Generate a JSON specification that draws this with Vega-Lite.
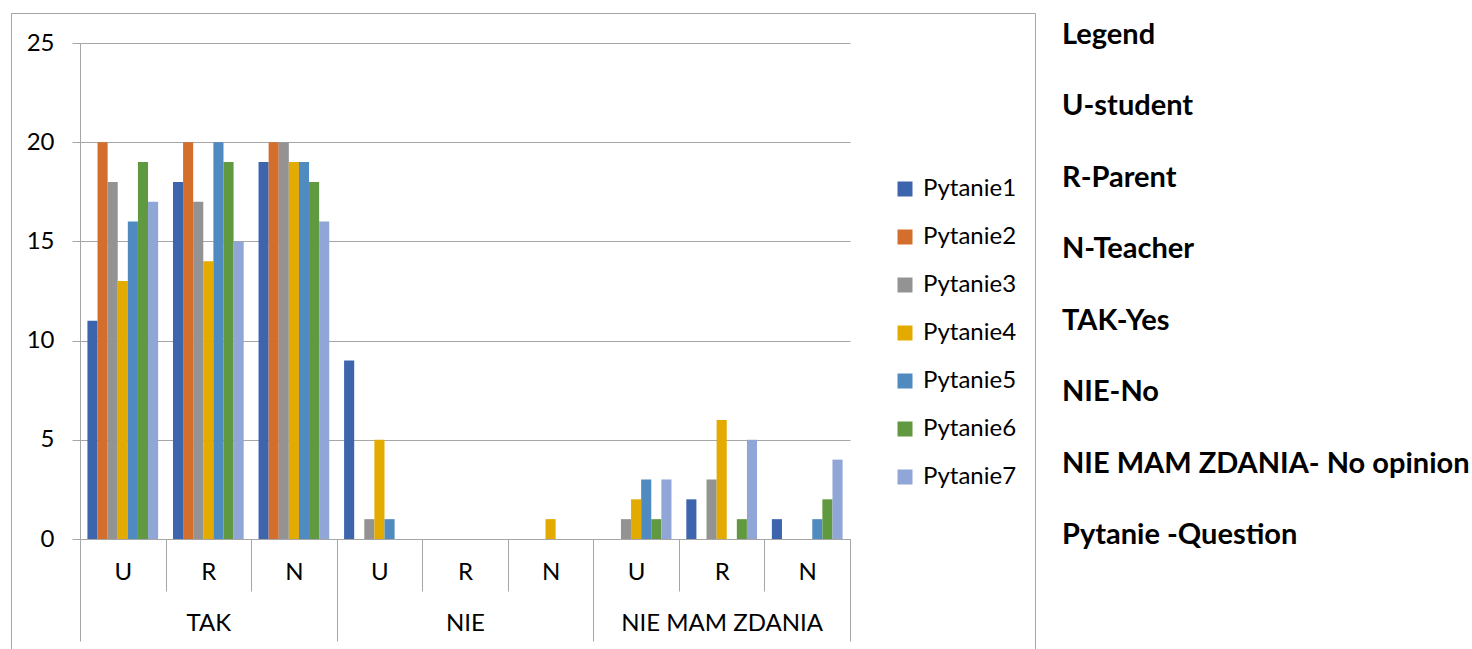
{
  "$schema": "https://vega.github.io/schema/vega-lite/v6.json",
  "padding": {"left": 10, "top": 12, "right": 0, "bottom": 0},
  "autosize": {"type": "pad"},
  "config": {"font": "Lato", "view": {"stroke": null}, "concat": {"spacing": 25}},
  "datasets": {
    "answers": [
      {"group": "TAK", "category": "TAK|U", "question": "Pytanie1", "value": 11},
      {"group": "TAK", "category": "TAK|U", "question": "Pytanie2", "value": 20},
      {"group": "TAK", "category": "TAK|U", "question": "Pytanie3", "value": 18},
      {"group": "TAK", "category": "TAK|U", "question": "Pytanie4", "value": 13},
      {"group": "TAK", "category": "TAK|U", "question": "Pytanie5", "value": 16},
      {"group": "TAK", "category": "TAK|U", "question": "Pytanie6", "value": 19},
      {"group": "TAK", "category": "TAK|U", "question": "Pytanie7", "value": 17},
      {"group": "TAK", "category": "TAK|R", "question": "Pytanie1", "value": 18},
      {"group": "TAK", "category": "TAK|R", "question": "Pytanie2", "value": 20},
      {"group": "TAK", "category": "TAK|R", "question": "Pytanie3", "value": 17},
      {"group": "TAK", "category": "TAK|R", "question": "Pytanie4", "value": 14},
      {"group": "TAK", "category": "TAK|R", "question": "Pytanie5", "value": 20},
      {"group": "TAK", "category": "TAK|R", "question": "Pytanie6", "value": 19},
      {"group": "TAK", "category": "TAK|R", "question": "Pytanie7", "value": 15},
      {"group": "TAK", "category": "TAK|N", "question": "Pytanie1", "value": 19},
      {"group": "TAK", "category": "TAK|N", "question": "Pytanie2", "value": 20},
      {"group": "TAK", "category": "TAK|N", "question": "Pytanie3", "value": 20},
      {"group": "TAK", "category": "TAK|N", "question": "Pytanie4", "value": 19},
      {"group": "TAK", "category": "TAK|N", "question": "Pytanie5", "value": 19},
      {"group": "TAK", "category": "TAK|N", "question": "Pytanie6", "value": 18},
      {"group": "TAK", "category": "TAK|N", "question": "Pytanie7", "value": 16},
      {"group": "NIE", "category": "NIE|U", "question": "Pytanie1", "value": 9},
      {"group": "NIE", "category": "NIE|U", "question": "Pytanie2", "value": 0},
      {"group": "NIE", "category": "NIE|U", "question": "Pytanie3", "value": 1},
      {"group": "NIE", "category": "NIE|U", "question": "Pytanie4", "value": 5},
      {"group": "NIE", "category": "NIE|U", "question": "Pytanie5", "value": 1},
      {"group": "NIE", "category": "NIE|U", "question": "Pytanie6", "value": 0},
      {"group": "NIE", "category": "NIE|U", "question": "Pytanie7", "value": 0},
      {"group": "NIE", "category": "NIE|R", "question": "Pytanie1", "value": 0},
      {"group": "NIE", "category": "NIE|R", "question": "Pytanie2", "value": 0},
      {"group": "NIE", "category": "NIE|R", "question": "Pytanie3", "value": 0},
      {"group": "NIE", "category": "NIE|R", "question": "Pytanie4", "value": 0},
      {"group": "NIE", "category": "NIE|R", "question": "Pytanie5", "value": 0},
      {"group": "NIE", "category": "NIE|R", "question": "Pytanie6", "value": 0},
      {"group": "NIE", "category": "NIE|R", "question": "Pytanie7", "value": 0},
      {"group": "NIE", "category": "NIE|N", "question": "Pytanie1", "value": 0},
      {"group": "NIE", "category": "NIE|N", "question": "Pytanie2", "value": 0},
      {"group": "NIE", "category": "NIE|N", "question": "Pytanie3", "value": 0},
      {"group": "NIE", "category": "NIE|N", "question": "Pytanie4", "value": 1},
      {"group": "NIE", "category": "NIE|N", "question": "Pytanie5", "value": 0},
      {"group": "NIE", "category": "NIE|N", "question": "Pytanie6", "value": 0},
      {"group": "NIE", "category": "NIE|N", "question": "Pytanie7", "value": 0},
      {"group": "NIE MAM ZDANIA", "category": "NIE MAM ZDANIA|U", "question": "Pytanie1", "value": 0},
      {"group": "NIE MAM ZDANIA", "category": "NIE MAM ZDANIA|U", "question": "Pytanie2", "value": 0},
      {"group": "NIE MAM ZDANIA", "category": "NIE MAM ZDANIA|U", "question": "Pytanie3", "value": 1},
      {"group": "NIE MAM ZDANIA", "category": "NIE MAM ZDANIA|U", "question": "Pytanie4", "value": 2},
      {"group": "NIE MAM ZDANIA", "category": "NIE MAM ZDANIA|U", "question": "Pytanie5", "value": 3},
      {"group": "NIE MAM ZDANIA", "category": "NIE MAM ZDANIA|U", "question": "Pytanie6", "value": 1},
      {"group": "NIE MAM ZDANIA", "category": "NIE MAM ZDANIA|U", "question": "Pytanie7", "value": 3},
      {"group": "NIE MAM ZDANIA", "category": "NIE MAM ZDANIA|R", "question": "Pytanie1", "value": 2},
      {"group": "NIE MAM ZDANIA", "category": "NIE MAM ZDANIA|R", "question": "Pytanie2", "value": 0},
      {"group": "NIE MAM ZDANIA", "category": "NIE MAM ZDANIA|R", "question": "Pytanie3", "value": 3},
      {"group": "NIE MAM ZDANIA", "category": "NIE MAM ZDANIA|R", "question": "Pytanie4", "value": 6},
      {"group": "NIE MAM ZDANIA", "category": "NIE MAM ZDANIA|R", "question": "Pytanie5", "value": 0},
      {"group": "NIE MAM ZDANIA", "category": "NIE MAM ZDANIA|R", "question": "Pytanie6", "value": 1},
      {"group": "NIE MAM ZDANIA", "category": "NIE MAM ZDANIA|R", "question": "Pytanie7", "value": 5},
      {"group": "NIE MAM ZDANIA", "category": "NIE MAM ZDANIA|N", "question": "Pytanie1", "value": 1},
      {"group": "NIE MAM ZDANIA", "category": "NIE MAM ZDANIA|N", "question": "Pytanie2", "value": 0},
      {"group": "NIE MAM ZDANIA", "category": "NIE MAM ZDANIA|N", "question": "Pytanie3", "value": 0},
      {"group": "NIE MAM ZDANIA", "category": "NIE MAM ZDANIA|N", "question": "Pytanie4", "value": 0},
      {"group": "NIE MAM ZDANIA", "category": "NIE MAM ZDANIA|N", "question": "Pytanie5", "value": 1},
      {"group": "NIE MAM ZDANIA", "category": "NIE MAM ZDANIA|N", "question": "Pytanie6", "value": 2},
      {"group": "NIE MAM ZDANIA", "category": "NIE MAM ZDANIA|N", "question": "Pytanie7", "value": 4}
    ],
    "notes": [
      {"label": "Legend"},
      {"label": "U-student"},
      {"label": "R-Parent"},
      {"label": "N-Teacher"},
      {"label": "TAK-Yes"},
      {"label": "NIE-No"},
      {"label": "NIE MAM ZDANIA- No opinion"},
      {"label": "Pytanie -Question"}
    ]
  },
  "hconcat": [
    {
      "width": 1024,
      "height": 637,
      "view": {"stroke": "#a6a6a6", "strokeWidth": 1},
      "data": {"name": "answers"},
      "layer": [
        {
          "mark": {"type": "bar"},
          "encoding": {
            "x": {
              "field": "category", "type": "nominal", "sort": null,
              "scale": {"range": [69, 839], "paddingInner": 0, "paddingOuter": 0},
              "axis": {
                "title": null, "orient": "bottom", "offset": -111,
                "labelExpr": "split(datum.value, '|')[1]",
                "tickBand": "extent", "tickSize": 52, "tickColor": "#a6a6a6",
                "domainColor": "#a6a6a6", "labelPadding": -31, "labelFontSize": 24,
                "labelColor": "#000000", "labelAngle": 0, "grid": false
              }
            },
            "xOffset": {
              "field": "question", "type": "nominal", "sort": null,
              "scale": {"paddingInner": 0, "paddingOuter": 0.735}
            },
            "y": {
              "field": "value", "type": "quantitative",
              "scale": {"domain": [0, 25], "range": [526, 30], "nice": false},
              "axis": {
                "title": null, "offset": -69, "values": [0, 5, 10, 15, 20, 25],
                "tickSize": 8, "tickColor": "#a6a6a6", "domainColor": "#a6a6a6",
                "grid": true, "gridColor": "#a6a6a6", "labelFontSize": 24,
                "labelColor": "#000000", "labelPadding": 18
              }
            },
            "color": {
              "field": "question", "type": "nominal", "sort": null,
              "scale": {"range": ["#3d65ae", "#d46e2c", "#939393", "#e3aa00", "#4f8bc0", "#60993f", "#8fa6d6"]},
              "legend": {
                "title": null, "orient": "none", "legendX": 882, "legendY": 164,
                "symbolType": "square", "symbolSize": 225, "symbolStrokeWidth": 0,
                "labelFontSize": 24, "labelColor": "#000000", "rowPadding": 24,
                "labelOffset": 6, "padding": 0
              }
            }
          }
        },
        {
          "mark": {"type": "rule", "opacity": 0},
          "encoding": {
            "x": {
              "field": "group", "type": "nominal", "sort": null,
              "scale": {"range": [69, 839], "paddingInner": 0, "paddingOuter": 0},
              "axis": {
                "title": null, "orient": "bottom", "offset": -111, "domain": false,
                "tickBand": "extent", "tickSize": 102, "tickColor": "#a6a6a6",
                "labelPadding": -30, "labelFontSize": 24, "labelColor": "#000000",
                "labelAngle": 0, "labelLimit": 0, "grid": false
              }
            }
          }
        }
      ],
      "resolve": {"scale": {"x": "independent"}, "axis": {"x": "independent"}}
    },
    {
      "width": 2,
      "height": 544,
      "data": {"name": "notes"},
      "mark": {"type": "text", "align": "left", "baseline": "middle", "fontSize": 29, "fontWeight": "bold", "color": "#000000"},
      "encoding": {
        "y": {"field": "label", "type": "nominal", "sort": null, "scale": {"type": "point", "padding": 0.308}, "axis": null},
        "text": {"field": "label"}
      }
    }
  ]
}
